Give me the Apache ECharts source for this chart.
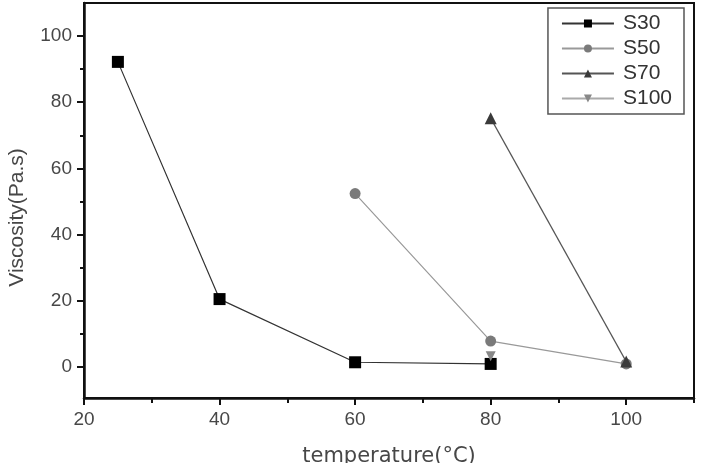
<!DOCTYPE html>
<html>
<head>
<meta charset="utf-8">
<script src="https://cdn.jsdelivr.net/npm/echarts@6/dist/echarts.min.js"></script>
<style>
  html, body { margin: 0; padding: 0; background: #fff; }
  #chart { width: 701px; height: 463px; }
</style>
</head>
<body>
<div id="chart"></div>
<script>
// data
var seriesNames = ['S30', 'S50', 'S70', 'S100'];
var s30 = [[25, 92.2], [40, 20.5], [60, 1.4], [80, 0.9]];
var s50 = [[60, 52.4], [80, 7.8], [100, 0.9]];
var s70 = [[80, 75.2], [100, 1.6]];
var s100 = [[80, 3.2]];

var xMajor = [20, 40, 60, 80, 100];
var xMinor = [30, 50, 70, 90, 110];
var yMajor = [0, 20, 40, 60, 80, 100];
var yMinor = [10, 30, 50, 70, 90];

var axisColor = '#111';
var textColor = '#474747';
var font = 'Liberation Sans, Arial, sans-serif';

var chart = echarts.init(document.getElementById('chart'), null, { renderer: 'canvas' });

var option = {
  backgroundColor: '#fff',
  animation: false,
  grid: {
    left: 84, right: 7, top: 3, bottom: 65,
    containLabel: false,
    outerBoundsMode: 'none',
    show: true, borderColor: axisColor, borderWidth: 2
  },
  legend: {
    data: seriesNames,
    orient: 'vertical',
    right: 17,
    top: 8,
    padding: [5, 12, 5, 13],
    itemGap: 4,
    itemWidth: 52,
    itemHeight: 10,
    borderColor: '#555',
    borderWidth: 1.5,
    backgroundColor: '#fff',
    textStyle: { fontSize: 21, color: '#333', fontFamily: font, padding: [0, 0, 0, 4] }
  },
  xAxis: [{
    type: 'value',
    min: 20, max: 110,
    name: 'temperature(°C)',
    nameLocation: 'middle',
    nameGap: 48,
    nameTextStyle: { fontSize: 21, color: textColor, fontFamily: 'DejaVu Sans, sans-serif' },
    axisLine: { onZero: false, lineStyle: { color: axisColor, width: 2.5 } },
    axisTick: { show: true, customValues: xMajor, length: 7, lineStyle: { color: axisColor, width: 2 } },
    axisLabel: { customValues: xMajor, fontSize: 19, color: textColor, fontFamily: font, margin: 12 },
    splitLine: { show: false }
  }, {
    type: 'value',
    min: 20, max: 110,
    position: 'bottom',
    axisLine: { show: false, onZero: false },
    axisTick: { show: true, customValues: xMinor, length: 5, lineStyle: { color: axisColor, width: 2 } },
    axisLabel: { show: false },
    splitLine: { show: false }
  }],
  yAxis: [{
    type: 'value',
    min: -9.4, max: 110,
    name: 'Viscosity(Pa.s)',
    nameLocation: 'middle',
    nameGap: 56,
    nameTextStyle: { fontSize: 21, color: textColor, fontFamily: font, padding: [0, 34, 0, 0] },
    axisLine: { show: true, onZero: false, lineStyle: { color: axisColor, width: 2.5 } },
    axisTick: { show: true, customValues: yMajor, length: 7, lineStyle: { color: axisColor, width: 2 } },
    axisLabel: { customValues: yMajor, fontSize: 19, color: textColor, fontFamily: font, margin: 12 },
    splitLine: { show: false }
  }, {
    type: 'value',
    min: -9.4, max: 110,
    position: 'left',
    axisLine: { show: false, onZero: false },
    axisTick: { show: true, customValues: yMinor, length: 4, lineStyle: { color: axisColor, width: 2 } },
    axisLabel: { show: false },
    splitLine: { show: false }
  }],
  series: [
    {
      name: 'S30', type: 'line', data: s30,
      symbol: 'rect', symbolSize: 12,
      itemStyle: { color: '#000' },
      lineStyle: { color: '#333', width: 1.2 }
    },
    {
      name: 'S50', type: 'line', data: s50,
      symbol: 'circle', symbolSize: 11,
      itemStyle: { color: '#7a7a7a' },
      lineStyle: { color: '#999', width: 1.2 }
    },
    {
      name: 'S70', type: 'line', data: s70,
      symbol: 'triangle', symbolSize: 12,
      itemStyle: { color: '#3a3a3a' },
      lineStyle: { color: '#555', width: 1.2 }
    },
    {
      name: 'S100', type: 'line', data: s100,
      symbol: 'triangle', symbolRotate: 180, symbolSize: 10,
      itemStyle: { color: '#888' },
      lineStyle: { color: '#aaa', width: 1.2 }
    }
  ]
};

chart.setOption(option);
</script>
</body>
</html>
